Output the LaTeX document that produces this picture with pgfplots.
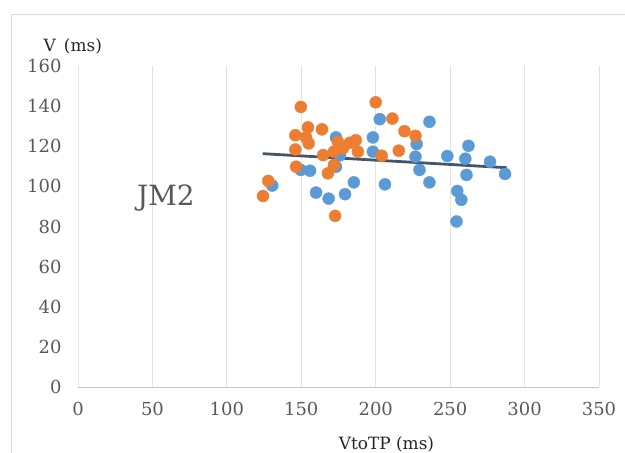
\documentclass[border=0pt]{standalone}
\usepackage{pgfplots}
\pgfplotsset{compat=1.18}
\usepackage{pgfplotstable}
\usepackage{fontspec}
\setmainfont{DejaVu Serif}

\definecolor{ptblue}{HTML}{5B9BD5}
\definecolor{ptorange}{HTML}{ED7D31}
\definecolor{trend}{HTML}{44546A}
\definecolor{txtgray}{HTML}{595959}

% blue series
\pgfplotstableread{
x y
236.1 132.2
202.7 133.5
198.1 124.4
173.3 124.4
198.1 117.3
227.5 121.1
262.3 120.2
226.7 114.8
248.1 115.1
260.2 113.8
276.8 112.3
229.4 108.2
286.9 106.2
261.0 105.7
149.7 108.2
155.9 107.8
173.3 109.8
130.5 100.4
185.3 102.0
206.2 101.0
236.1 102.0
159.9 96.9
179.4 96.1
168.4 93.9
254.8 97.7
257.5 93.3
254.3 82.5
176.0 115.5
}\blueser

% orange series
\pgfplotstableread{
x y
149.7 139.6
200.0 141.9
211.2 133.8
154.5 129.4
163.9 128.4
146.0 125.5
153.2 124.4
219.3 127.5
226.7 125.2
155.0 121.4
146.0 118.4
174.6 122.2
182.6 121.7
186.6 123.0
188.0 117.3
171.9 117.3
164.7 115.6
215.5 117.8
204.0 115.3
146.5 109.8
171.9 110.6
167.9 106.5
127.8 102.7
124.3 95.2
172.7 85.3
178.0 119.0
}\orangeser

\begin{document}
\begin{tikzpicture}[x=1bp,y=1bp]
\useasboundingbox (-78,-66) rectangle (547,387);
\draw[gray!30, line width=1bp] (-66,-70) -- (-66,372) -- (550,372);
\begin{axis}[
    at={(0,0)}, anchor=south west,
    scale only axis, width=521bp, height=321bp,
    xmin=0, xmax=350, ymin=0, ymax=160,
    xtick distance=50, ytick distance=20,
    major tick length=0,
    axis x line*=bottom, axis y line*=left,
    x axis line style={-, draw=gray!45, line width=0.8bp},
    y axis line style={draw=none},
    xmajorgrids,
    grid style={gray!22, line width=0.8bp},
    /pgf/number format/assume math mode=true,
    tick label style={font=\fontsize{18}{20}\selectfont, text=txtgray},
    yticklabel style={xshift=-13bp},
    xticklabel style={yshift=-12bp},
    xlabel={VtoTP (ms)},
    xlabel style={at={(axis description cs:0.592,0)}, anchor=center, yshift=-57bp,
        font=\fontsize{17}{20}\selectfont, text=black!85},
    ylabel={V\ \,(ms)},
    ylabel style={at={(axis description cs:0,1)}, anchor=west, rotate=-90,
        xshift=-38bp, yshift=20bp, font=\fontsize{17}{20}\selectfont, text=black!85},
    clip=false,
]
\addplot[ptblue, only marks, mark=*, mark size=6bp, mark options={draw=ptblue, fill=ptblue}]
    table[x=x, y=y] {\blueser};
\addplot[ptorange, only marks, mark=*, mark size=6bp, mark options={draw=ptorange, fill=ptorange}]
    table[x=x, y=y] {\orangeser};
\addplot[trend, line width=2.8bp] coordinates {(124,116.3) (288,109.3)};
\node[font=\fontsize{28}{32}\selectfont, text=txtgray] at (axis cs:59,94) {JM2};
\end{axis}
\end{tikzpicture}
\end{document}
